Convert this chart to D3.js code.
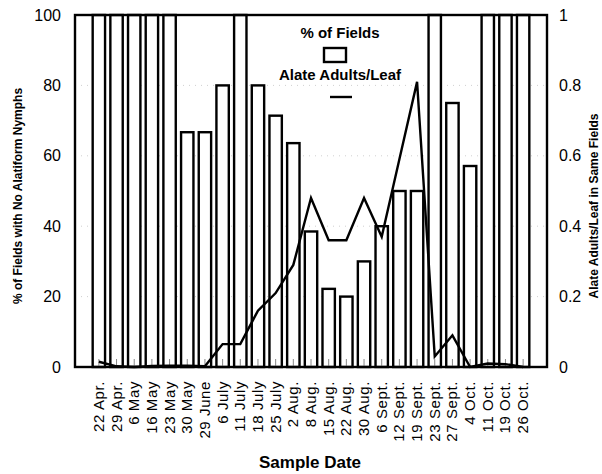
<!DOCTYPE html>
<html>
<head>
<meta charset="utf-8">
<script src="https://cdn.jsdelivr.net/npm/d3@7"></script>
<style>
    body { margin: 0; background: #fff; }
    text { font-family: "Liberation Sans", Arial, sans-serif; fill: #000; }
</style>
</head>
<body>
<div id="chart"></div>
<script>
const dates = ['22 Apr.', '29 Apr.', '6 May', '16 May', '23 May', '30 May', '29 June', '6 July',
    '11 July', '18 July', '25 July', '2 Aug.', '8 Aug.', '15 Aug.', '22 Aug.', '30 Aug.', '6 Sept.',
    '12 Sept.', '19 Sept.', '23 Sept.', '27 Sept.', '4 Oct.', '11 Oct.', '19 Oct.', '26 Oct.'];

// % of fields with no alatiform nymphs (bars, left axis)
const pctFields = [100, 100, 100, 100, 100, 66.7, 66.7, 80, 100, 80, 71.4, 63.6, 38.5, 22.2, 20,
    30, 40, 50, 50, 100, 75, 57.1, 100, 100, 100];

// alate adults per leaf (line, right axis)
const alatesPerLeaf = [0.015, 0.002, 0, 0.003, 0.004, 0.004, 0.002, 0.065, 0.065, 0.16, 0.21, 0.29,
    0.48, 0.36, 0.36, 0.48, 0.37, 0.59, 0.81, 0.03, 0.09, 0, 0.01, 0.008, 0];

const leftTicks = [0, 20, 40, 60, 80, 100];
const rightTicks = [0, 0.2, 0.4, 0.6, 0.8, 1];

const W = 602;
const H = 474;
const margin = { top: 15, right: 55, bottom: 107, left: 75 };

const svg = d3.select('#chart').append('svg')
    .attr('width', W)
    .attr('height', H);

const x = d3.scaleBand()
    .domain(dates)
    .range([margin.left, W - margin.right])
    .paddingInner(0.3)
    .paddingOuter(1);

const yLeft = d3.scaleLinear().domain([0, 100]).range([H - margin.bottom, margin.top]);
const yRight = d3.scaleLinear().domain([0, 1]).range([H - margin.bottom, margin.top]);

// faint dotted grid
svg.append('g')
    .selectAll('line')
    .data(leftTicks.slice(1, -1))
    .join('line')
    .attr('x1', margin.left)
    .attr('x2', W - margin.right)
    .attr('y1', d => yLeft(d))
    .attr('y2', d => yLeft(d))
    .attr('stroke', '#bbb')
    .attr('stroke-width', 0.7)
    .attr('stroke-dasharray', '1,5');

// bars
svg.append('g')
    .selectAll('rect')
    .data(pctFields)
    .join('rect')
    .attr('x', (d, i) => x(dates[i]))
    .attr('y', d => yLeft(d))
    .attr('width', x.bandwidth())
    .attr('height', d => yLeft(0) - yLeft(d))
    .attr('fill', '#fff')
    .attr('stroke', '#000')
    .attr('stroke-width', 2.4);

// small inward ticks at the bottom of each band
svg.append('g')
    .attr('transform', `translate(0,${H - margin.bottom})`)
    .call(d3.axisBottom(x).tickSize(-8).tickFormat(''))
    .call(g => g.select('.domain').remove())
    .call(g => g.selectAll('.tick line').attr('stroke', '#888').attr('stroke-width', 1));

// frame
svg.append('rect')
    .attr('x', margin.left)
    .attr('y', margin.top)
    .attr('width', W - margin.left - margin.right)
    .attr('height', H - margin.top - margin.bottom)
    .attr('fill', 'none')
    .attr('stroke', '#000')
    .attr('stroke-width', 2.4);

// line
const line = d3.line()
    .x((d, i) => x(dates[i]) + x.bandwidth() / 2)
    .y(d => yRight(d));

svg.append('path')
    .datum(alatesPerLeaf)
    .attr('d', line)
    .attr('fill', 'none')
    .attr('stroke', '#000')
    .attr('stroke-width', 2.4)
    .attr('stroke-linejoin', 'miter');

// axes
svg.append('g')
    .attr('transform', `translate(${margin.left},0)`)
    .call(d3.axisLeft(yLeft).tickValues(leftTicks).tickSize(0).tickPadding(14))
    .call(g => g.select('.domain').remove())
    .call(g => g.selectAll('text').style('font-size', '16px'));

svg.append('g')
    .attr('transform', `translate(${W - margin.right},0)`)
    .call(d3.axisRight(yRight).tickValues(rightTicks).tickSize(0).tickPadding(12)
        .tickFormat(d3.format('~g')))
    .call(g => g.select('.domain').remove())
    .call(g => g.selectAll('text').style('font-size', '16px'));

svg.append('g')
    .selectAll('text')
    .data(dates)
    .join('text')
    .attr('transform', d => `translate(${x(d) + x.bandwidth() / 2 + 5},${H - margin.bottom + 14}) rotate(-90)`)
    .attr('text-anchor', 'end')
    .style('font-size', '15px')
    .style('letter-spacing', '0.6px')
    .text(d => d);

// axis titles
svg.append('text')
    .attr('x', 310)
    .attr('y', 468)
    .attr('text-anchor', 'middle')
    .style('font-size', '17px')
    .style('font-weight', 'bold')
    .text('Sample Date');

svg.append('text')
    .attr('transform', 'translate(22,196) rotate(-90)')
    .attr('text-anchor', 'middle')
    .style('font-size', '12px')
    .style('font-weight', 'bold')
    .text('% of Fields with No Alatiform Nymphs');

svg.append('text')
    .attr('transform', 'translate(598,206) rotate(-90)')
    .attr('text-anchor', 'middle')
    .style('font-size', '12px')
    .style('font-weight', 'bold')
    .text('Alate Adults/Leaf in Same Fields');

// legend
const legend = svg.append('g').attr('transform', 'translate(340,0)');
legend.append('text')
    .attr('y', 38)
    .attr('text-anchor', 'middle')
    .style('font-size', '15px')
    .style('font-weight', 'bold')
    .text('% of Fields');
legend.append('rect')
    .attr('x', -16)
    .attr('y', 48)
    .attr('width', 22)
    .attr('height', 14)
    .attr('fill', '#fff')
    .attr('stroke', '#000')
    .attr('stroke-width', 2.4);
legend.append('text')
    .attr('y', 80)
    .attr('text-anchor', 'middle')
    .style('font-size', '15px')
    .style('font-weight', 'bold')
    .text('Alate Adults/Leaf');
legend.append('line')
    .attr('x1', -10)
    .attr('x2', 12)
    .attr('y1', 97)
    .attr('y2', 97)
    .attr('stroke', '#000')
    .attr('stroke-width', 2.4);
</script>
</body>
</html>
